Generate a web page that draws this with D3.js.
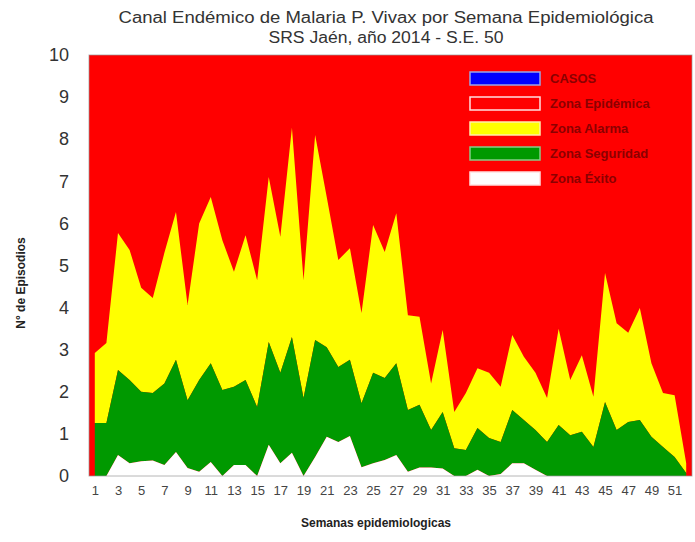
<!DOCTYPE html>
<html>
<head>
<meta charset="UTF-8">
<title>Canal Endémico de Malaria P. Vivax</title>
<script src="https://cdn.jsdelivr.net/npm/d3@7"></script>
<style>
  body { margin: 0; background: #fff; }
  text { font-family: Arial, "Liberation Sans", sans-serif; }
</style>
</head>
<body>
<svg id="chart" width="695" height="542"></svg>
<script>
// semanas epidemiologicas
var semanas = d3.range(1, 53);
var xTicks = d3.range(1, 53, 2);
var yTicks = [0, 1, 2, 3, 4, 5, 6, 7, 8, 9, 10];

// upper limit of each zone (cases per week)
var zonaExito = [0, 0, 0.5, 0.3, 0.35, 0.37, 0.26, 0.57, 0.19, 0.1, 0.33, 0, 0.26, 0.26, 0, 0.74,
  0.3, 0.55, 0, 0.45, 0.93, 0.81, 0.95, 0.21, 0.3, 0.38, 0.5, 0.1, 0.2, 0.2, 0.18, 0, 0, 0.15,
  0, 0.05, 0.3, 0.3, 0.15, 0, 0, 0, 0, 0, 0, 0, 0, 0, 0, 0, 0, 0];
var zonaSeguridad = [1.26, 1.26, 2.52, 2.28, 2.0, 1.97, 2.2, 2.76, 1.8, 2.28, 2.68, 2.04, 2.12, 2.28,
  1.64, 3.18, 2.45, 3.3, 1.85, 3.23, 3.06, 2.59, 2.76, 1.73, 2.45, 2.33, 2.68, 1.57, 1.69, 1.09,
  1.52, 0.66, 0.62, 1.14, 0.9, 0.81, 1.57, 1.33, 1.09, 0.81, 1.21, 0.97, 1.05, 0.69, 1.76, 1.09,
  1.28, 1.33, 0.93, 0.69, 0.45, 0.07];
var zonaAlarma = [2.92, 3.16, 5.77, 5.37, 4.47, 4.23, 5.3, 6.27, 4.06, 6.0, 6.63, 5.6, 4.85, 5.72,
  4.65, 7.1, 5.68, 8.27, 4.65, 8.1, 6.63, 5.13, 5.41, 3.87, 5.96, 5.32, 6.24, 3.82, 3.78, 2.2,
  3.47, 1.52, 1.97, 2.56, 2.45, 2.12, 3.35, 2.83, 2.45, 1.85, 3.5, 2.28, 2.87, 1.88, 4.82, 3.63,
  3.4, 3.99, 2.68, 1.97, 1.92, 0.3];

var leyenda = ["CASOS", "Zona Epidémica", "Zona Alarma", "Zona Seguridad", "Zona Éxito"];
var coloresLeyenda = ["#0000ff", "#ff0000", "#ffff00", "#009900", "#ffffff"];
var bordesLeyenda = ["#9aa6e6", "#ffe0e0", "#ffeeaa", "#88cc88", "#ffe0e0"];

var svg = d3.select("#chart"),
    margin = {top: 55, right: 3, bottom: 66, left: 89},
    width = +svg.attr("width") - margin.left - margin.right,
    height = +svg.attr("height") - margin.top - margin.bottom;

var x = d3.scalePoint().domain(semanas).range([margin.left, margin.left + width]).padding(0.5);
var y = d3.scaleLinear().domain([0, 10]).range([margin.top + height, margin.top]);

// zona epidemica = fondo rojo
svg.append("rect")
  .attr("x", margin.left).attr("y", margin.top)
  .attr("width", width).attr("height", height)
  .attr("fill", "#ff0000");

function zona(lo, hi) {
  return d3.area()
    .x(function(d, i) { return x(semanas[i]); })
    .y0(function(d, i) { return y(lo ? lo[i] : 0); })
    .y1(function(d, i) { return y(hi[i]); });
}

svg.append("path").datum(semanas).attr("fill", "#ffff00").attr("d", zona(zonaSeguridad, zonaAlarma));
svg.append("path").datum(semanas).attr("fill", "#009900").attr("d", zona(zonaExito, zonaSeguridad));
svg.append("path").datum(semanas).attr("fill", "#ffffff").attr("d", zona(null, zonaExito));

// borde
svg.append("rect")
  .attr("x", margin.left).attr("y", margin.top)
  .attr("width", width).attr("height", height)
  .attr("fill", "none").attr("stroke", "#999").attr("stroke-opacity", 0.7);

// ejes
var yAxis = svg.append("g")
  .attr("transform", "translate(" + margin.left + ",0)")
  .call(d3.axisLeft(y).tickValues(yTicks).tickSize(0).tickPadding(20));
yAxis.select(".domain").remove();
yAxis.selectAll("text").attr("font-size", 18).attr("fill", "#333")
  .attr("font-family", "Arial, 'Liberation Sans', sans-serif");

var xAxis = svg.append("g")
  .attr("transform", "translate(0," + (margin.top + height) + ")")
  .call(d3.axisBottom(x).tickValues(xTicks).tickSize(0).tickPadding(10));
xAxis.select(".domain").remove();
xAxis.selectAll("text").attr("font-size", 13).attr("fill", "#444")
  .attr("font-family", "Arial, 'Liberation Sans', sans-serif");

// titulos
svg.append("text").attr("x", 386).attr("y", 23).attr("text-anchor", "middle")
  .attr("font-size", 16).attr("fill", "#333")
  .attr("textLength", 535).attr("lengthAdjust", "spacingAndGlyphs")
  .text("Canal Endémico de Malaria P. Vivax por Semana Epidemiológica");
svg.append("text").attr("x", 386).attr("y", 43).attr("text-anchor", "middle")
  .attr("font-size", 16).attr("fill", "#333")
  .attr("textLength", 235).attr("lengthAdjust", "spacingAndGlyphs")
  .text("SRS Jaén, año 2014 - S.E. 50");

svg.append("text").attr("x", 376).attr("y", 527).attr("text-anchor", "middle")
  .attr("font-size", 12).attr("font-weight", "bold").attr("fill", "#222")
  .text("Semanas epidemiologicas");

svg.append("text").attr("transform", "translate(25,283) rotate(-90)")
  .attr("text-anchor", "middle")
  .attr("font-size", 12).attr("font-weight", "bold").attr("fill", "#222")
  .text("N° de Episodios");

// leyenda
var leg = svg.append("g").attr("transform", "translate(470,72)");
var item = leg.selectAll("g").data(leyenda).enter().append("g")
  .attr("transform", function(d, i) { return "translate(0," + (i * 25) + ")"; });
item.append("rect")
  .attr("width", 70).attr("height", 13)
  .attr("fill", function(d, i) { return coloresLeyenda[i]; })
  .attr("stroke", function(d, i) { return bordesLeyenda[i]; })
  .attr("stroke-width", 1.5);
item.append("text")
  .attr("x", 80).attr("y", 11)
  .attr("font-family", "'Liberation Serif', 'DejaVu Serif', serif")
  .attr("font-size", 13).attr("font-weight", "bold").attr("fill", "#8b0000")
  .text(function(d) { return d; });
</script>
</body>
</html>
